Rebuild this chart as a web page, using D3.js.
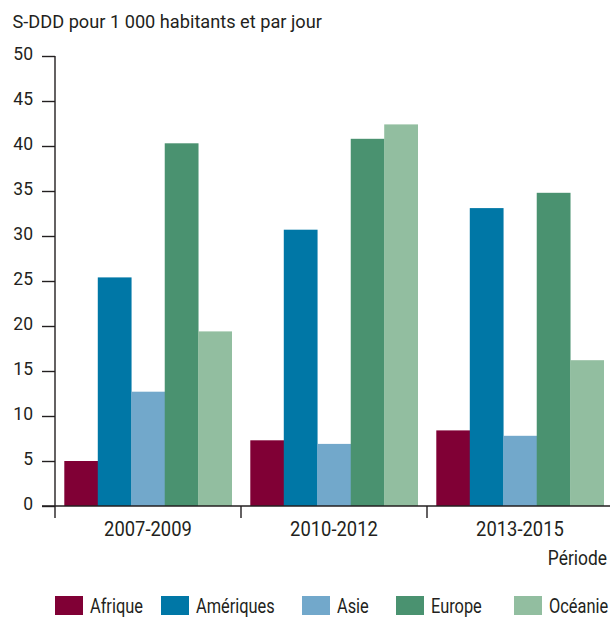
<!DOCTYPE html>
<html>
<head>
<meta charset="utf-8">
<script src="https://cdn.jsdelivr.net/npm/d3@7"></script>
<style>
  body { margin: 0; background: #fff; }
  svg text { font-family: Roboto, "Liberation Sans", sans-serif; fill: #231f20; }
</style>
</head>
<body>
<svg width="610" height="617"></svg>
<script>
const periods = ["2007-2009", "2010-2012", "2013-2015"];
const regions = ["Afrique", "Amériques", "Asie", "Europe", "Océanie"];
const colors = ["#800035", "#0077a6", "#72a8cb", "#4a9270", "#92bea0"];
const afrique = [5.0, 7.3, 8.4];
const ameriques = [25.4, 30.7, 33.1];
const asie = [12.7, 6.9, 7.8];
const europe = [40.3, 40.8, 34.8];
const oceanie = [19.4, 42.4, 16.2];
const yTicks = [0, 5, 10, 15, 20, 25, 30, 35, 40, 45, 50];

const series = [afrique, ameriques, asie, europe, oceanie];
const data = periods.map((p, i) => ({
    period: p,
    values: regions.map((r, j) => ({ region: r, value: series[j][i] }))
}));

const margin = { top: 56, right: 0, bottom: 111, left: 55 };
const width = 613 - margin.left,
      height = 617 - margin.top - margin.bottom;

const sxAxis = 0.92;   // narrow look for the period labels
const sxLegend = 0.82; // and for the legend / "Période"

const svg = d3.select("svg")
  .append("g")
    .attr("transform", `translate(${margin.left},${margin.top})`);

const x0 = d3.scaleBand()
    .domain(periods)
    .range([0, width])
    .paddingInner(0.1)
    .paddingOuter(0.05);

const x1 = d3.scaleBand()
    .domain(regions)
    .range([0, x0.bandwidth()]);

const y = d3.scaleLinear()
    .domain([0, 50])
    .range([height, 0]);

const color = d3.scaleOrdinal().domain(regions).range(colors);

// bars
svg.selectAll(".group")
    .data(data)
    .enter().append("g")
    .attr("class", "group")
    .attr("transform", d => `translate(${x0(d.period)},0)`)
  .selectAll("rect")
    .data(d => d.values)
    .enter().append("rect")
    .attr("x", d => x1(d.region))
    .attr("width", x1.bandwidth() + 0.3)
    .attr("y", d => y(d.value))
    .attr("height", d => height - y(d.value))
    .style("fill", d => color(d.region));

// y axis
const yAxis = svg.append("g")
    .call(d3.axisLeft(y).tickValues(yTicks).tickSize(13).tickPadding(9));
yAxis.select(".domain").remove();
yAxis.selectAll("line").attr("stroke", "#231f20").attr("stroke-width", 1.4);
yAxis.selectAll("text").style("font-size", "17.5px").attr("dy", "0.18em");

svg.append("line")
    .attr("x1", 0).attr("x2", 0)
    .attr("y1", y(50)).attr("y2", height + 12)
    .attr("stroke", "#231f20").attr("stroke-width", 1.4);

// x axis
svg.append("line")
    .attr("x1", -13).attr("x2", width)
    .attr("y1", height).attr("y2", height)
    .attr("stroke", "#231f20").attr("stroke-width", 1.4);

const step = x0.step();
const xAxis = svg.append("g")
    .attr("transform", `translate(0,${height})`)
    .call(d3.axisBottom(x0).tickSize(0).tickPadding(16));
xAxis.select(".domain").remove();
xAxis.selectAll("text")
    .style("font-size", "20px")
    .attr("transform", `scale(${sxAxis},1)`);

svg.selectAll(".sep")
    .data(periods.slice(1))
    .enter().append("line")
    .attr("class", "sep")
    .attr("x1", d => x0(d) - step * 0.05).attr("x2", d => x0(d) - step * 0.05)
    .attr("y1", height).attr("y2", height + 12)
    .attr("stroke", "#231f20").attr("stroke-width", 1.4);

// titles
d3.select("svg").append("text")
    .attr("x", 12.5)
    .attr("y", 28)
    .style("font-size", "18.2px")
    .text("S-DDD pour 1 000 habitants et par jour");

d3.select("svg").append("text")
    .attr("text-anchor", "end")
    .attr("x", 607 / 0.87)
    .attr("y", 565)
    .attr("transform", "scale(0.87,1)")
    .style("font-size", "20px")
    .text("Période");

// legend
const legendX = [55, 161, 302, 396, 514];
const legend = d3.select("svg").append("g");
regions.forEach((r, i) => {
    legend.append("rect")
        .attr("x", legendX[i]).attr("y", 596)
        .attr("width", 28).attr("height", 19)
        .style("fill", color(r));
    legend.append("text")
        .attr("x", (legendX[i] + 35) / sxLegend)
        .attr("y", 613)
        .attr("transform", `scale(${sxLegend},1)`)
        .style("font-size", "20px")
        .text(r);
});
</script>
</body>
</html>
